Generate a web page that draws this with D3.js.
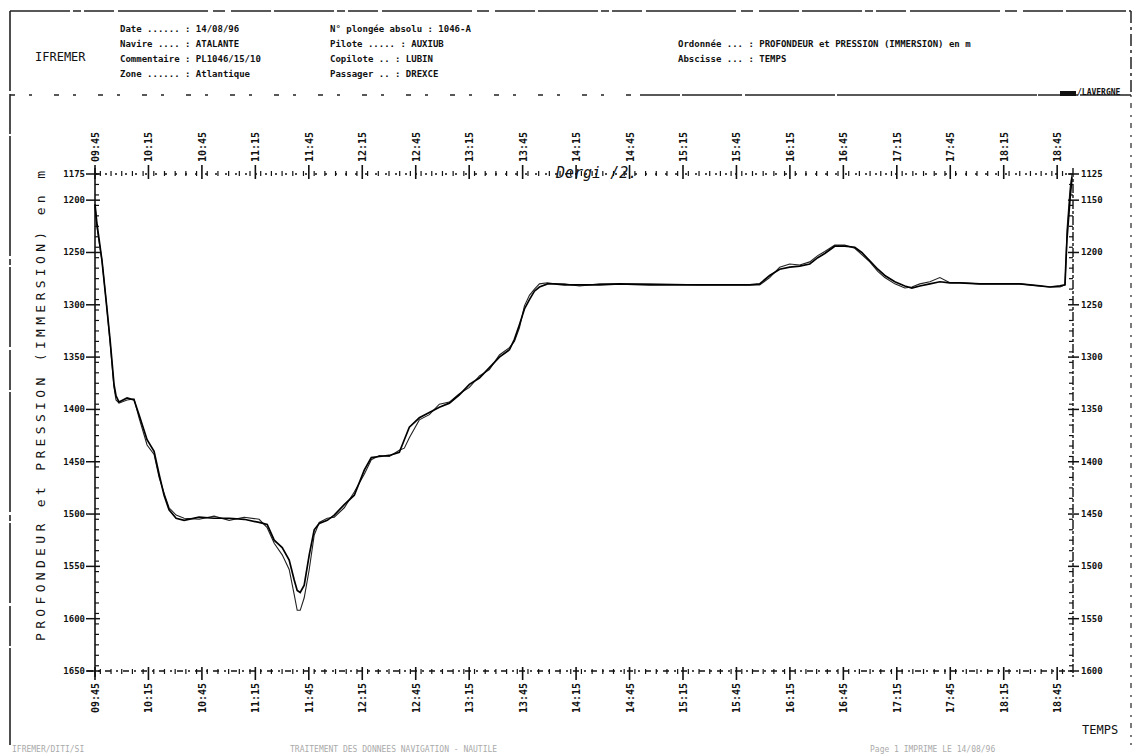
<!DOCTYPE html>
<html>
<head>
<meta charset="utf-8">
<script src="https://cdn.jsdelivr.net/npm/d3@7"></script>
<style>
  body { margin: 0; background: #fff; }
  svg { display: block; }
  text { font-family: "DejaVu Sans Mono", "Liberation Mono", monospace; fill: #111; }
</style>
</head>
<body>
<svg id="chart" width="1139" height="755"></svg>
<script>
// Dive record: time of day and immersion (m) from depth sensor and from pressure
const times = [
  "09:45:00","09:46:07","09:48:56","09:51:11","09:53:26","09:55:40","09:56:48","09:58:29","10:02:59","10:06:55",
  "10:09:43","10:14:13","10:18:09","10:20:58","10:23:46","10:26:34","10:30:31","10:35:00","10:43:26","10:51:51",
  "11:00:17","11:08:43","11:17:08","11:21:38","11:25:34","11:30:04","11:33:59","11:36:48","11:38:29","11:40:10",
  "11:42:25","11:45:14","11:48:02","11:50:50","11:55:20","11:59:16","12:04:53","12:10:31","12:16:07","12:20:04",
  "12:24:33","12:30:10","12:35:47","12:38:36","12:41:25","12:47:01","12:52:38","12:58:16","13:03:53","13:09:30",
  "13:15:07","13:20:44","13:26:21","13:31:58","13:37:35","13:40:23","13:43:12","13:46:01","13:48:49","13:51:38",
  "13:54:26","13:58:56","14:02:52","14:08:29","14:16:55","14:28:09","14:39:23","14:56:14","15:24:20","15:52:25",
  "15:58:02","16:03:39","16:09:16","16:14:53","16:20:31","16:26:08","16:30:37","16:34:34","16:40:10","16:45:47",
  "16:51:25","16:55:20","16:59:50","17:04:20","17:08:16","17:13:53","17:19:30","17:23:26","17:27:56","17:33:33",
  "17:39:10","17:44:47","17:50:24","18:01:38","18:12:52","18:24:07","18:35:21","18:40:58","18:46:35","18:49:23",
  "18:49:58","18:50:31","18:52:13","18:53:20"
];
const profondeur = [
  1204,1223,1258,1295,1333,1376,1387,1393,1389,1391,
  1405,1429,1440,1462,1482,1496,1504,1506,1503,1504,
  1504,1505,1508,1510,1525,1532,1544,1563,1573,1575,
  1568,1539,1515,1509,1506,1501,1491,1482,1458,1446,
  1445,1444,1441,1429,1417,1408,1403,1398,1394,1386,
  1376,1370,1360,1350,1343,1333,1319,1304,1295,1287,
  1283,1280,1280,1281,1281,1281,1280,1281,1281,1281,
  1280,1272,1266,1264,1263,1261,1255,1251,1244,1244,
  1245,1250,1258,1266,1272,1278,1282,1284,1282,1280,
  1278,1279,1279,1280,1280,1280,1282,1283,1282,1281,
  1257,1237,1199,1178
];
const immersion = [
  1204,1226,1258,1295,1335,1379,1391,1394,1391,1390,
  1408,1434,1443,1465,1480,1494,1501,1504,1505,1502,
  1506,1503,1505,1513,1528,1539,1553,1577,1592,1592,
  1580,1553,1520,1508,1504,1503,1494,1479,1462,1448,
  1444,1445,1439,1437,1427,1410,1405,1395,1393,1385,
  1379,1368,1362,1348,1341,1335,1322,1301,1291,1285,
  1280,1279,1280,1280,1282,1280,1280,1280,1281,1281,
  1281,1274,1264,1261,1262,1259,1253,1249,1243,1243,
  1246,1252,1259,1268,1274,1280,1284,1283,1280,1278,
  1274,1279,1279,1280,1280,1280,1282,1283,1283,1281,
  1258,1228,1189,1175
];

// Axis annotations
const timeTicks = ["09:45","10:15","10:45","11:15","11:45","12:15","12:45","13:15","13:45","14:15",
                   "14:45","15:15","15:45","16:15","16:45","17:15","17:45","18:15","18:45"];
const timeDomain = ["09:45:00", "18:53:53"];
const leftTicks = [1175,1200,1250,1300,1350,1400,1450,1500,1550,1600,1650];
const leftDomain = [1175, 1650];
const rightTicks = [1125,1150,1200,1250,1300,1350,1400,1450,1500,1550,1600];
const rightDomain = [1125, 1600];

const headerCol1 = ["Date ...... : 14/08/96", "Navire .... : ATALANTE", "Commentaire : PL1046/15/10", "Zone ...... : Atlantique"];
const headerCol2 = ["N\u00b0 plong\u00e9e absolu : 1046-A", "Pilote ..... : AUXIUB", "Copilote .. : LUBIN", "Passager .. : DREXCE"];
const headerCol3 = ["Ordonn\u00e9e ... : PROFONDEUR et PRESSION (IMMERSION) en m", "Abscisse ... : TEMPS"];

const svg = d3.select("#chart");
const W = 1139, H = 755;
const plot = { left: 95, right: 1073, top: 174, bottom: 671 };

const parseT = d3.timeParse("%H:%M:%S");
const parseHM = d3.timeParse("%H:%M");
const x = d3.scaleTime().domain(timeDomain.map(parseT)).range([plot.left, plot.right]);
const yL = d3.scaleLinear().domain(leftDomain).range([plot.top, plot.bottom]);
const yR = d3.scaleLinear().domain(rightDomain).range([plot.top, plot.bottom]);

svg.append("rect").attr("width", W).attr("height", H).attr("fill", "#fff");

// ---- Page frame and header block ----
const frame = svg.append("g").attr("stroke", "#222").attr("fill", "none");
frame.append("line").attr("x1", 10).attr("y1", 11).attr("x2", 1131).attr("y2", 11)
  .attr("stroke-width", 1.4).attr("stroke-dasharray", "60 3 8 3 30 4 90 5 12 6 40 3");
frame.append("line").attr("x1", 10).attr("y1", 11).attr("x2", 10).attr("y2", 745)
  .attr("stroke-width", 1.6).attr("stroke-dasharray", "80 3 40 2 120 3 6 2");
frame.append("line").attr("x1", 1131).attr("y1", 11).attr("x2", 1131).attr("y2", 95)
  .attr("stroke-width", 1.5).attr("stroke-dasharray", "12 4 3 4");
frame.append("line").attr("x1", 1131).attr("y1", 95).attr("x2", 1131).attr("y2", 745)
  .attr("stroke-width", 1.2).attr("stroke-dasharray", "2 6 5 7");
frame.append("line").attr("x1", 10).attr("y1", 95).attr("x2", 640).attr("y2", 95)
  .attr("stroke-width", 1.3).attr("stroke-dasharray", "5 14 3 22");
frame.append("line").attr("x1", 640).attr("y1", 95).attr("x2", 1131).attr("y2", 95)
  .attr("stroke-width", 1.5).attr("stroke-dasharray", "40 2 60 3 90 2 200 1");
svg.append("rect").attr("x", 1060).attr("y", 91).attr("width", 16).attr("height", 5).attr("fill", "#111");
svg.append("text").attr("x", 1077).attr("y", 95).attr("font-size", 8).attr("font-weight", "bold").text("/LAVERGNE");

svg.append("text").attr("x", 35).attr("y", 61).attr("font-size", 12).text("IFREMER");
const hdr = svg.append("g").attr("font-size", 9).attr("font-weight", "bold");
headerCol1.forEach((t, i) => hdr.append("text").attr("x", 120).attr("y", 32 + i * 15).text(t));
headerCol2.forEach((t, i) => hdr.append("text").attr("x", 330).attr("y", 32 + i * 15).text(t));
headerCol3.forEach((t, i) => hdr.append("text").attr("x", 678).attr("y", 47 + i * 15).text(t));

// ---- Axes ----
const axes = svg.append("g").attr("stroke", "#111").attr("fill", "none");
axes.append("line").attr("x1", plot.left).attr("x2", plot.left).attr("y1", plot.top - 6).attr("y2", plot.bottom + 6)
  .attr("stroke-width", 1.6);
axes.append("line").attr("x1", plot.right).attr("x2", plot.right).attr("y1", plot.top - 6).attr("y2", plot.bottom + 6)
  .attr("stroke-width", 1.4).attr("stroke-dasharray", "9 2 3 2");
axes.append("line").attr("x1", plot.left).attr("x2", plot.right).attr("y1", plot.top).attr("y2", plot.top)
  .attr("stroke-width", 1.3).attr("stroke-dasharray", "2 8");
axes.append("line").attr("x1", plot.left - 8).attr("x2", plot.right).attr("y1", plot.bottom).attr("y2", plot.bottom)
  .attr("stroke-width", 1.3).attr("stroke-dasharray", "6 5 2 5");

// time ticks: major every 30 min, minor every 6 min
const majorTimes = timeTicks.map(parseHM);
const minorTimes = d3.timeMinute.every(6).range(x.domain()[0], x.domain()[1]);
axes.selectAll(".tminT").data(minorTimes).join("line")
  .attr("x1", d => x(d)).attr("x2", d => x(d)).attr("y1", plot.top - 3).attr("y2", plot.top + 2).attr("stroke-width", 1.2);
axes.selectAll(".tminB").data(minorTimes).join("line")
  .attr("x1", d => x(d)).attr("x2", d => x(d)).attr("y1", plot.bottom - 2).attr("y2", plot.bottom + 3).attr("stroke-width", 1.2);
axes.selectAll(".tmajT").data(majorTimes).join("line")
  .attr("x1", d => x(d)).attr("x2", d => x(d)).attr("y1", plot.top - 9).attr("y2", plot.top + 5).attr("stroke-width", 1.6);
axes.selectAll(".tmajB").data(majorTimes).join("line")
  .attr("x1", d => x(d)).attr("x2", d => x(d)).attr("y1", plot.bottom - 4).attr("y2", plot.bottom + 9).attr("stroke-width", 1.6);

const tl = svg.append("g").attr("font-size", 10).attr("font-weight", "bold");
tl.selectAll(".lt").data(timeTicks).join("text")
  .attr("transform", d => `translate(${x(parseHM(d)) + 4},${plot.top - 12}) rotate(-90)`)
  .text(d => d);
tl.selectAll(".lb").data(timeTicks).join("text")
  .attr("transform", d => `translate(${x(parseHM(d)) + 4},${plot.bottom + 42}) rotate(-90)`)
  .text(d => d);

// depth ticks: left (profondeur) and right (pression)
const minorL = d3.range(leftDomain[0], leftDomain[1] + 0.1, 10);
axes.selectAll(".dminL").data(minorL).join("line")
  .attr("x1", plot.left).attr("x2", plot.left + 4).attr("y1", d => yL(d)).attr("y2", d => yL(d)).attr("stroke-width", 1.2);
axes.selectAll(".dmajL").data(leftTicks).join("line")
  .attr("x1", plot.left - 9).attr("x2", plot.left + 5).attr("y1", d => yL(d)).attr("y2", d => yL(d)).attr("stroke-width", 1.5);
const minorR = d3.range(rightDomain[0], rightDomain[1] + 0.1, 10);
axes.selectAll(".dminR").data(minorR).join("line")
  .attr("x1", plot.right - 4).attr("x2", plot.right).attr("y1", d => yR(d)).attr("y2", d => yR(d)).attr("stroke-width", 1.2);
axes.selectAll(".dmajR").data(rightTicks).join("line")
  .attr("x1", plot.right - 5).attr("x2", plot.right + 6).attr("y1", d => yR(d)).attr("y2", d => yR(d)).attr("stroke-width", 1.5);

const yl = svg.append("g").attr("font-size", 9).attr("font-weight", "bold");
yl.selectAll(".l").data(leftTicks).join("text")
  .attr("x", plot.left - 10).attr("y", d => yL(d) + 3).attr("text-anchor", "end").text(d => d);
yl.selectAll(".r").data(rightTicks).join("text")
  .attr("x", plot.right + 8).attr("y", d => yR(d) + 3).text(d => d);

// axis titles
svg.append("text").attr("transform", `translate(45,${plot.bottom - 30}) rotate(-90)`)
  .attr("font-size", 13).attr("textLength", 470).attr("lengthAdjust", "spacing")
  .text("PROFONDEUR et PRESSION (IMMERSION) en m");
svg.append("text").attr("x", 1082).attr("y", 734).attr("font-size", 12).text("TEMPS");

// handwritten note
svg.append("text").attr("x", 556).attr("y", 178).attr("font-size", 15).attr("font-style", "italic")
  .attr("font-family", "DejaVu Serif, serif").text("Dergi /2.");

// ---- Profiles ----
const rows = times.map((t, i) => ({ t: parseT(t), p: profondeur[i], m: immersion[i] }));
const lineP = d3.line().x(d => x(d.t)).y(d => yL(d.p));
const lineM = d3.line().x(d => x(d.t)).y(d => yL(d.m));
svg.append("path").datum(rows).attr("d", lineM).attr("fill", "none").attr("stroke", "#222").attr("stroke-width", 1.1);
svg.append("path").datum(rows).attr("d", lineP).attr("fill", "none").attr("stroke", "#000").attr("stroke-width", 1.7);

// footer
const ft = svg.append("g").attr("font-size", 8);
ft.append("text").attr("x", 12).attr("y", 752).style("fill", "#aaa").text("IFREMER/DITI/SI");
ft.append("text").attr("x", 290).attr("y", 752).style("fill", "#aaa").text("TRAITEMENT DES DONNEES NAVIGATION - NAUTILE");
ft.append("text").attr("x", 870).attr("y", 752).style("fill", "#aaa").text("Page 1   IMPRIME LE 14/08/96");
</script>
</body>
</html>
